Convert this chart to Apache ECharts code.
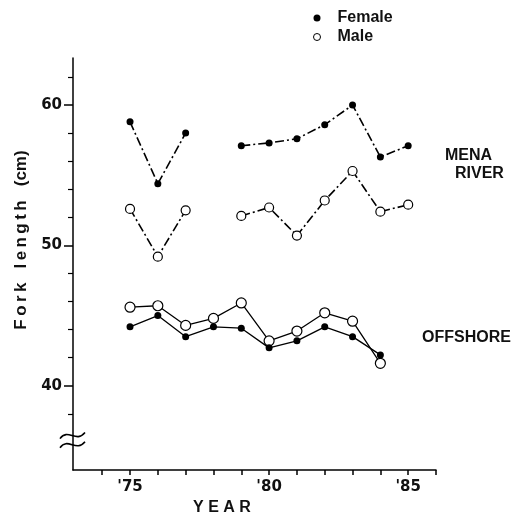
<!DOCTYPE html>
<html>
<head>
<meta charset="utf-8">
<script src="https://cdn.jsdelivr.net/npm/echarts@6/dist/echarts.min.js"></script>
<style>
  html, body { margin: 0; padding: 0; background: #fff; }
  #chart { width: 522px; height: 515px; }
</style>
</head>
<body>
<div id="chart"></div>
<script>
// data (fork length in cm, by year)
const years = [75, 76, 77, 78, 79, 80, 81, 82, 83, 84, 85]
const menaFemale = [58.8, 54.4, 58.0, null, 57.1, 57.3, 57.6, 58.6, 60.0, 56.3, 57.1]
const menaMale = [52.6, 49.2, 52.5, null, 52.1, 52.7, 50.7, 53.2, 55.3, 52.4, 52.9]
const offFemale = [44.2, 45.0, 43.5, 44.2, 44.1, 42.7, 43.2, 44.2, 43.5, 42.2, null]
const offMale = [45.6, 45.7, 44.3, 44.8, 45.9, 43.2, 43.9, 45.2, 44.6, 41.6, null]

const yLabelValues = [40, 50, 60]
const yMinorTicks = [38, 42, 44, 46, 48, 52, 54, 56, 58, 62]
const xTickValues = [74, 75, 76, 77, 78, 79, 80, 81, 82, 83, 84, 85, 86]
const xLabelValues = [75, 80, 85]

const toPairs = (arr) => years.map((y, i) => [y, arr[i] == null ? '-' : arr[i]])

const textFont = 'Liberation Sans'
const tickFont = 'DejaVu Sans'
const dashDot = [9, 3, 2, 3]
// thin spaces to mimic the letter-spaced lettering of the original
const spaced = (s) => s.split('').join('\u2009')

const chart = echarts.init(document.getElementById('chart'), null, { renderer: 'canvas' })

const femaleStyle = { color: '#000' }
const maleStyle = { color: '#fff', borderColor: '#000', borderWidth: 1.2 }

chart.setOption({
  animation: false,
  backgroundColor: '#fff',
  grid: { left: 73, right: 86, top: 58, bottom: 45, containLabel: false, outerBoundsMode: 'none' },
  legend: {
    orient: 'vertical',
    left: 308,
    top: 5,
    itemWidth: 31,
    itemHeight: 7,
    itemGap: 3,
    selectedMode: false,
    textStyle: { fontFamily: textFont, fontWeight: 'bold', fontSize: 16, color: '#111' },
    data: [
      { name: 'Female', icon: 'circle', itemStyle: femaleStyle },
      { name: 'Male', icon: 'circle', itemStyle: { color: '#fff', borderColor: '#000', borderWidth: 1 } }
    ]
  },
  xAxis: {
    type: 'value',
    min: 72.95,
    max: 86,
    name: 'Y E A R',
    nameLocation: 'middle',
    nameGap: 30,
    nameTextStyle: { fontFamily: textFont, fontWeight: 'bold', fontSize: 16, color: '#111', padding: [0, 65, 0, 0] },
    axisLine: { lineStyle: { color: '#000', width: 1.5 } },
    axisTick: { show: true, inside: false, length: 5, lineStyle: { color: '#000', width: 1.5 }, customValues: xTickValues },
    axisLabel: {
      customValues: xLabelValues,
      formatter: (v) => "'" + v,
      margin: 10,
      fontFamily: tickFont,
      fontWeight: 'bold',
      fontSize: 15,
      color: '#111'
    },
    splitLine: { show: false }
  },
  yAxis: [
    {
      type: 'value',
      min: 34,
      max: 63.35,
      name: spaced('Fork') + '   ' + spaced('length') + '   (cm)',
      nameLocation: 'middle',
      nameGap: 42,
      nameTextStyle: { fontFamily: textFont, fontWeight: 'bold', fontSize: 17, color: '#111', padding: [0, 0, 0, 48] },
      axisLine: { show: true, lineStyle: { color: '#000', width: 1.5 } },
      axisTick: { show: true, length: 9, lineStyle: { color: '#000', width: 1.5 }, customValues: yLabelValues },
      axisLabel: {
        customValues: yLabelValues,
        margin: 11,
        fontFamily: tickFont,
        fontWeight: 'bold',
        fontSize: 15,
        color: '#111'
      },
      splitLine: { show: false }
    },
    {
      // minor ticks only
      type: 'value',
      position: 'left',
      min: 34,
      max: 63.35,
      axisLine: { show: false },
      axisTick: { show: true, length: 5, lineStyle: { color: '#000', width: 1.2 }, customValues: yMinorTicks },
      axisLabel: { show: false },
      splitLine: { show: false }
    }
  ],
  series: [
    {
      name: 'Female',
      type: 'line',
      data: toPairs(menaFemale),
      symbol: 'circle',
      symbolSize: 7,
      itemStyle: femaleStyle,
      lineStyle: { color: '#000', width: 1.6, type: dashDot },
      z: 3
    },
    {
      name: 'Male',
      type: 'line',
      data: toPairs(menaMale),
      symbol: 'circle',
      symbolSize: 9,
      itemStyle: maleStyle,
      lineStyle: { color: '#000', width: 1.6, type: dashDot },
      z: 3
    },
    {
      name: 'Female',
      type: 'line',
      data: toPairs(offFemale),
      symbol: 'circle',
      symbolSize: 7,
      itemStyle: femaleStyle,
      lineStyle: { color: '#000', width: 1.3 },
      z: 3
    },
    {
      name: 'Male',
      type: 'line',
      data: toPairs(offMale),
      symbol: 'circle',
      symbolSize: 10,
      itemStyle: maleStyle,
      lineStyle: { color: '#000', width: 1.3 },
      z: 2
    }
  ]
})

// group labels on the right and the axis break mark
const labelStyle = { fontFamily: textFont, fontWeight: 'bold', fontSize: 16, fill: '#111', textVerticalAlign: 'middle' }
const ax = chart.convertToPixel({ xAxisIndex: 0 }, 72.95)
const b1 = chart.convertToPixel({ yAxisIndex: 0 }, 36.45)
const b2 = chart.convertToPixel({ yAxisIndex: 0 }, 35.8)
const squiggle = (cy) => ({
  type: 'bezierCurve',
  shape: { x1: ax - 13, y1: cy + 3, cpx1: ax - 5, cpy1: cy - 8, cpx2: ax + 3, cpy2: cy + 8, x2: ax + 12, y2: cy - 3 },
  style: { stroke: '#000', lineWidth: 1.6, fill: null },
  z: 10
})

chart.setOption({
  graphic: [
    { type: 'text', left: 445, top: 148, style: Object.assign({ text: 'MENA' }, labelStyle) },
    { type: 'text', left: 455, top: 166, style: Object.assign({ text: 'RIVER' }, labelStyle) },
    { type: 'text', left: 422, top: 330, style: Object.assign({ text: 'OFFSHORE' }, labelStyle) },
    squiggle(b1),
    squiggle(b2)
  ]
})
</script>
</body>
</html>
